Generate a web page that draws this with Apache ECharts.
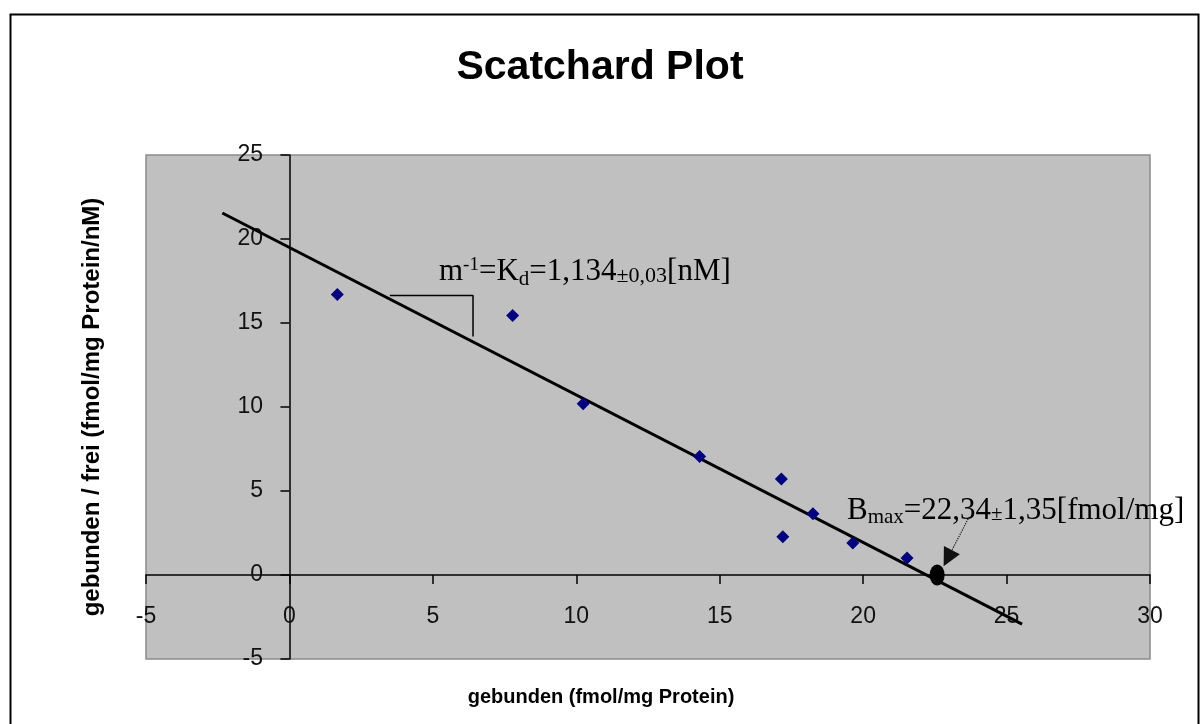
<!DOCTYPE html>
<html>
<head>
<meta charset="utf-8">
<script src="https://cdn.jsdelivr.net/npm/echarts@6/dist/echarts.min.js"></script>
<style>html,body{margin:0;padding:0;background:#fff}#c{width:1200px;height:724px}</style>
</head>
<body>
<div id="c"></div>
<script>
// Data
const bound = [1.67, 7.78, 10.24, 14.3, 17.15, 17.2, 18.25, 19.64, 21.53];
const boundFree = [16.7, 15.45, 10.2, 7.05, 5.72, 2.27, 3.64, 1.91, 1.01];
const fitX = [-2.34, 25.54];
const fitY = [21.55, -2.92];
const bmax = [22.58, 0];
const slopeTriX = [3.5, 6.4, 6.4];
const slopeTriY = [16.64, 16.64, 14.2];
const arrowFrom = [23.66, 3.34];
const arrowTo = [22.95, 1.0];
const xTicks = {min: -5, max: 30, interval: 5};
const yTicks = {min: -5, max: 25, interval: 5};

const chart = echarts.init(document.getElementById('c'), null, {renderer: 'canvas'});
const serif = "'Liberation Serif', 'Times New Roman', serif";
const sans = "'Liberation Sans', Arial, sans-serif";

chart.setOption({
  animation: false,
  backgroundColor: '#fff',
  title: {
    text: 'Scatchard Plot', left: 'center', top: 42,
    textStyle: {fontFamily: sans, fontSize: 41, fontWeight: 'bold', color: '#000'}
  },
  grid: {
    left: 146, top: 155, right: 50, bottom: 65,
    show: true, backgroundColor: '#c0c0c0', borderColor: '#8a8a8a', borderWidth: 1.5
  },
  xAxis: {
    type: 'value', min: xTicks.min, max: xTicks.max, interval: xTicks.interval,
    axisLine: {onZero: true, lineStyle: {color: '#000', width: 1.5}},
    axisTick: {show: true, length: 9, lineStyle: {color: '#000', width: 1.5}},
    axisLabel: {margin: -54, fontFamily: sans, fontSize: 23, color: '#111', showMinLabel: true, showMaxLabel: true},
    splitLine: {show: false}
  },
  yAxis: {
    type: 'value', min: yTicks.min, max: yTicks.max, interval: yTicks.interval,
    axisLine: {onZero: true, lineStyle: {color: '#000', width: 1.5}},
    axisTick: {show: true, length: 9, lineStyle: {color: '#000', width: 1.5}},
    axisLabel: {margin: -117, fontFamily: sans, fontSize: 23, color: '#111', showMinLabel: true, showMaxLabel: true},
    splitLine: {show: false}
  },
  series: [
    {
      type: 'line', name: 'fit', data: fitX.map((x, i) => [x, fitY[i]]),
      showSymbol: false, symbol: 'none', lineStyle: {color: '#000', width: 3}, z: 3
    },
    {
      type: 'line', name: 'slope', data: slopeTriX.map((x, i) => [x, slopeTriY[i]]),
      showSymbol: false, symbol: 'none', lineStyle: {color: '#000', width: 1.5}, z: 3
    },
    {
      type: 'scatter', name: 'data', data: bound.map((x, i) => [x, boundFree[i]]),
      symbol: 'diamond', symbolSize: 13, itemStyle: {color: '#000080', opacity: 1}, z: 4
    },
    {
      type: 'scatter', name: 'Bmax', data: [bmax],
      symbol: 'circle', symbolSize: [15, 21], itemStyle: {color: '#000', opacity: 1}, z: 5
    },
    {
      type: 'lines', coordinateSystem: 'cartesian2d', z: 5,
      data: [{coords: [arrowFrom, arrowTo]}],
      symbol: ['none', 'triangle'], symbolSize: 18,
      lineStyle: {color: '#111', width: 1.2, type: 'dotted', opacity: 1}
    }
  ],
  graphic: [
    {
      type: 'rect', left: 8, top: 12, z: 100, silent: true,
      shape: {width: 1188, height: 720},
      style: {fill: 'none', stroke: '#000', lineWidth: 2}
    },
    {
      type: 'text', x: 92, y: 407, rotation: Math.PI / 2, z: 100,
      style: {text: 'gebunden / frei (fmol/mg Protein/nM)', fontFamily: sans, fontSize: 24,
        fontWeight: 'bold', fill: '#000', align: 'center', verticalAlign: 'middle'}
    },
    {
      type: 'text', x: 601, y: 697, z: 100,
      style: {text: 'gebunden (fmol/mg Protein)', fontFamily: sans, fontSize: 20,
        fontWeight: 'bold', fill: '#000', align: 'center', verticalAlign: 'middle'}
    },
    {
      type: 'text', x: 439, y: 254, z: 100,
      style: {
        text: '{b|m}{sup|-1}{b|=K}{sub|d}{b|=1,134}{s|±0,03}{b|[nM]}',
        fill: '#000',
        rich: {
          b: {fontFamily: serif, fontSize: 31, lineHeight: 36, verticalAlign: 'middle', fill: '#000'},
          sup: {fontFamily: serif, fontSize: 19, lineHeight: 19, verticalAlign: 'top', fill: '#000', padding: [2, 0, 0, 0]},
          sub: {fontFamily: serif, fontSize: 21, lineHeight: 21, verticalAlign: 'bottom', fill: '#000'},
          s: {fontFamily: serif, fontSize: 22, lineHeight: 23, verticalAlign: 'bottom', fill: '#000', padding: [0, 0, 3, 0]}
        }
      }
    },
    {
      type: 'text', x: 847, y: 493, z: 100,
      style: {
        text: '{b|B}{sub|max}{b|=22,34}{s|±}{b|1,35[fmol/mg]}',
        fill: '#000',
        rich: {
          b: {fontFamily: serif, fontSize: 31, lineHeight: 35, verticalAlign: 'middle', fill: '#000'},
          sub: {fontFamily: serif, fontSize: 21, lineHeight: 20, verticalAlign: 'bottom', fill: '#000'},
          s: {fontFamily: serif, fontSize: 21, lineHeight: 22, verticalAlign: 'bottom', fill: '#000', padding: [0, 0, 3, 0]}
        }
      }
    }
  ]
});
</script>
</body>
</html>
